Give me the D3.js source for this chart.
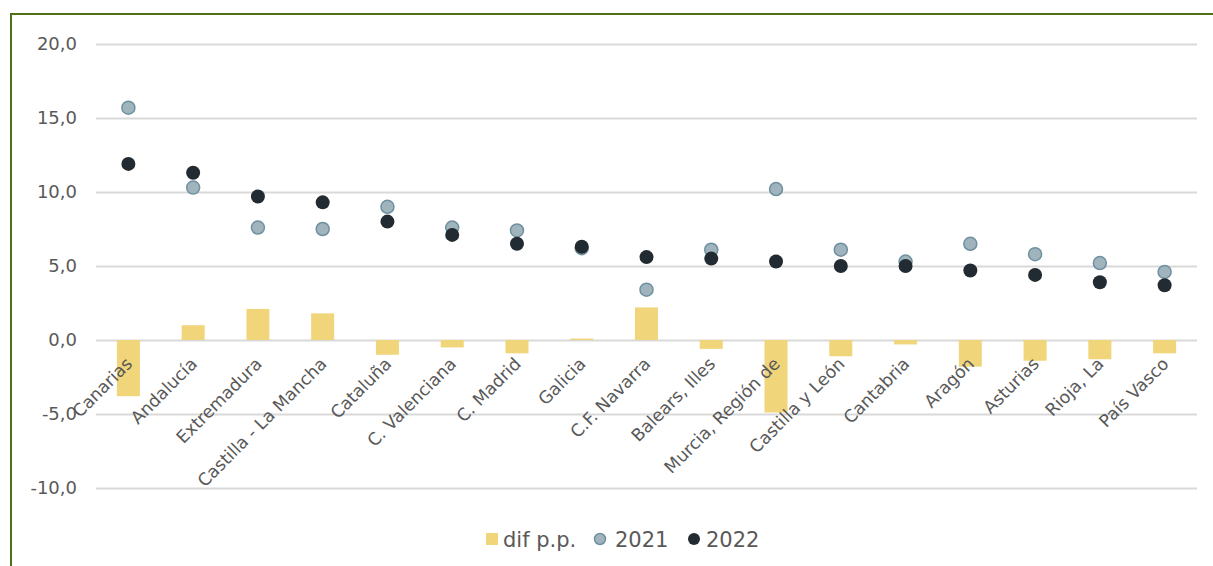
<!DOCTYPE html>
<html>
<head>
<meta charset="utf-8">
<script src="https://cdn.jsdelivr.net/npm/d3@7"></script>
<style>
  html, body { margin: 0; padding: 0; background: #fff; }
  svg { display: block; font-family: "DejaVu Sans", Verdana, sans-serif; }
</style>
</head>
<body>
<div id="chart"></div>
<script>
// categories and series
const regions = ["Canarias", "Andalucía", "Extremadura", "Castilla - La Mancha", "Cataluña",
  "C. Valenciana", "C. Madrid", "Galicia", "C.F. Navarra", "Balears, Illes",
  "Murcia, Región de", "Castilla y León", "Cantabria", "Aragón", "Asturias",
  "Rioja, La", "País Vasco"];
const v2021 = [15.7, 10.3, 7.6, 7.5, 9.0, 7.6, 7.4, 6.2, 3.4, 6.1, 10.2, 6.1, 5.3, 6.5, 5.8, 5.2, 4.6];
const v2022 = [11.9, 11.3, 9.7, 9.3, 8.0, 7.1, 6.5, 6.3, 5.6, 5.5, 5.3, 5.0, 5.0, 4.7, 4.4, 3.9, 3.7];
const difPP = [-3.8, 1.0, 2.1, 1.8, -1.0, -0.5, -0.9, 0.1, 2.2, -0.6, -4.9, -1.1, -0.3, -1.8, -1.4, -1.3, -0.9];
const yTicks = [-10, -5, 0, 5, 10, 15, 20];
const legendItems = ["dif p.p.", "2021", "2022"];

const width = 1213, height = 566;
const margin = { top: 44, right: 16, bottom: 78, left: 96 };

const data = regions.map((r, i) => ({ region: r, y21: v2021[i], y22: v2022[i], dif: difPP[i] }));

const svg = d3.select("#chart").append("svg")
  .attr("width", width)
  .attr("height", height);

// outer frame (only top and left edges are visible in the crop)
svg.append("rect")
  .attr("x", 11).attr("y", 14)
  .attr("width", width + 10).attr("height", height + 10)
  .attr("fill", "none")
  .attr("stroke", "#4f6f1a")
  .attr("stroke-width", 2);

const x = d3.scaleBand()
  .domain(regions)
  .range([margin.left, width - margin.right])
  .paddingInner(0)
  .paddingOuter(0);

const y = d3.scaleLinear()
  .domain([-10, 20])
  .range([height - margin.bottom, margin.top]);

// gridlines + y labels
const yAxis = svg.append("g")
  .attr("transform", `translate(${margin.left},0)`)
  .call(d3.axisLeft(y).tickValues(yTicks)
    .tickSize(-(width - margin.right - margin.left))
    .tickPadding(19)
    .tickFormat(d => d3.format(".1f")(d).replace(".", ",").replace("−", "-")));
yAxis.select(".domain").remove();
yAxis.selectAll(".tick line").attr("stroke", "#d9d9d9").attr("stroke-width", 2);
yAxis.selectAll(".tick text")
  .attr("fill", "#595959")
  .attr("font-family", "DejaVu Sans, Verdana, sans-serif")
  .attr("font-size", 18);

// bars: dif p.p.
const barW = 23;
svg.append("g")
  .attr("fill", "#f0d57a")
  .selectAll("rect")
  .data(data)
  .join("rect")
    .attr("x", d => x(d.region) + x.bandwidth() / 2 - barW / 2)
    .attr("y", d => y(Math.max(0, d.dif)))
    .attr("width", barW)
    .attr("height", d => Math.abs(y(d.dif) - y(0)));

// category labels along the zero line
svg.append("g")
  .selectAll("text")
  .data(data)
  .join("text")
    .attr("transform", d => `translate(${x(d.region) + x.bandwidth() / 2 + 5},${y(0) + 25}) rotate(-45)`)
    .attr("text-anchor", "end")
    .attr("fill", "#595959")
    .attr("font-size", 17.3)
    .text(d => d.region);

// 2021 points
svg.append("g")
  .selectAll("circle")
  .data(data)
  .join("circle")
    .attr("cx", d => x(d.region) + x.bandwidth() / 2)
    .attr("cy", d => y(d.y21))
    .attr("r", 6.5)
    .attr("fill", "#a0b4be")
    .attr("stroke", "#6f909f")
    .attr("stroke-width", 1.5);

// 2022 points
svg.append("g")
  .selectAll("circle")
  .data(data)
  .join("circle")
    .attr("cx", d => x(d.region) + x.bandwidth() / 2)
    .attr("cy", d => y(d.y22))
    .attr("r", 7)
    .attr("fill", "#222b31");

// legend
const legend = svg.append("g").attr("transform", "translate(0,539)");
const markX = [492, 600, 694];
const textX = [503, 615, 706];
legendItems.forEach((name, i) => {
  const g = legend.append("g");
  if (i === 0) {
    g.append("rect").attr("x", markX[i] - 6).attr("y", -6).attr("width", 12).attr("height", 12).attr("fill", "#f0d57a");
  } else if (i === 1) {
    g.append("circle").attr("cx", markX[i]).attr("cy", 0).attr("r", 5.5)
      .attr("fill", "#a0b4be").attr("stroke", "#6f909f").attr("stroke-width", 1.5);
  } else {
    g.append("circle").attr("cx", markX[i]).attr("cy", 0).attr("r", 6).attr("fill", "#222b31");
  }
  g.append("text")
    .attr("x", textX[i]).attr("y", 0).attr("dy", "0.36em")
    .attr("fill", "#595959")
    .attr("font-size", 21)
    .text(name);
});
</script>
</body>
</html>
